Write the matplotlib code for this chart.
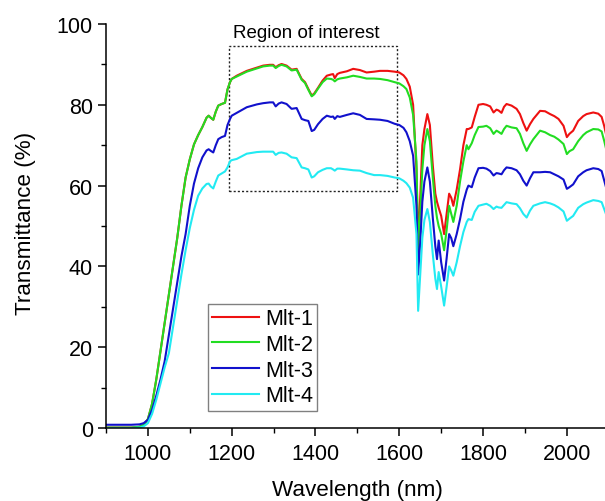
import matplotlib
matplotlib.use("Agg")
import matplotlib.pyplot as plt
from matplotlib.patches import Rectangle
from matplotlib.ticker import MultipleLocator

plt.rcParams['font.family'] = ['Liberation Sans', 'DejaVu Sans']

# ---------------- data ----------------
wl_rise = [900, 960, 980, 990, 1000, 1010, 1020, 1030, 1040, 1050, 1060, 1070, 1080, 1090, 1100,
           1110, 1120, 1130, 1140, 1145, 1150, 1156, 1162, 1168, 1176, 1184, 1190, 1196, 1200]
wl_roi = [1212, 1236, 1260, 1275, 1291, 1299, 1305, 1312, 1319, 1331, 1343, 1355, 1367, 1375, 1383,
          1391, 1397, 1406, 1417, 1427, 1437, 1442, 1446, 1452, 1458, 1475, 1490, 1506, 1522, 1540,
          1554, 1572, 1589, 1600, 1610, 1617, 1625, 1633, 1641]
wl_dip = [1645, 1650, 1655, 1660, 1667, 1673, 1680, 1686, 1690, 1694, 1700, 1707, 1713, 1719, 1724,
          1729, 1737, 1745, 1753, 1761, 1765, 1773, 1780, 1789]
wl_right = [1800, 1808, 1817, 1825, 1832, 1837, 1844, 1850, 1856, 1868, 1880, 1888, 1896, 1904, 1912,
            1920, 1936, 1948, 1960, 1970, 1980, 1992, 2000, 2006, 2015, 2027, 2039, 2047, 2063, 2075,
            2083, 2089, 2095]
wavelength = wl_rise + wl_roi + wl_dip + wl_right

mlt1 = ([0.1, 0.1, 0.3, 0.8, 2.2, 6, 12, 19, 26, 33, 40, 47, 55, 62, 66.5,
         70.2, 72.5, 74.5, 76.8, 77.3, 76.8, 76.3, 78.3, 79.8, 80.2, 80.5, 83.8, 85.6, 86.4]
        + [87.2, 88.4, 89.2, 89.7, 89.9, 89.9, 89.3, 89.8, 90.1, 89.7, 88.7, 88.9, 86.4, 85.6, 83.9,
           82.3, 82.8, 84.2, 86.0, 87.2, 87.5, 87.6, 86.6, 87.6, 87.9, 88.3, 88.9, 88.6, 88.0, 88.2,
           88.4, 88.4, 88.2, 88.0, 87.3, 86.4, 84.5, 80.0, 64.0]
        + [46, 57, 70, 74, 77.7, 75, 65, 58, 56, 54.5, 52.5, 48, 53, 58, 57,
           55, 59, 64, 70, 74, 74, 74.4, 77, 80]
        + [80.2, 80.0, 79.6, 78.1, 78.8, 78.6, 78.0, 79.5, 80.2, 79.8, 79.0, 77.7, 75.5, 73.6, 75.2,
           76.5, 78.5, 78.4, 77.7, 77.2, 76.5, 74.8, 72.0, 72.8, 73.6, 76.0, 77.2, 77.7, 78.1, 77.8,
           77.0, 74.8, 72.0])

mlt2 = ([0.1, 0.1, 0.3, 0.8, 2.2, 6, 12, 19, 26, 33, 40, 47, 55, 62, 66.5,
         70.2, 72.5, 74.5, 76.8, 77.3, 76.8, 76.3, 78.3, 79.8, 80.2, 80.5, 83.8, 85.6, 86.4]
        + [87.0, 88.2, 89.0, 89.5, 89.7, 89.7, 89.1, 89.6, 89.9, 89.5, 88.5, 88.7, 86.2, 85.4, 83.7,
           82.1, 82.6, 84.0, 85.6, 86.5, 86.4, 86.2, 85.8, 86.3, 86.5, 86.8, 87.2, 86.9, 86.5, 86.5,
           86.4, 86.1, 85.6, 85.3, 84.6, 83.9, 81.8, 77.5, 66.0]
        + [44, 53, 64, 70, 74, 71, 62, 55, 52, 50, 48, 44, 49, 55, 53,
           51, 55, 61, 66, 70, 69, 70.5, 72.5, 74.5]
        + [74.6, 74.8, 74.2, 72.8, 73.6, 73.3, 72.8, 74.0, 74.8, 74.4, 74.2, 72.8, 70.5, 68.6, 70.2,
           71.5, 73.6, 73.2, 72.5, 72.1, 71.4, 70.3, 67.8, 68.5, 69.0, 71.0, 72.5, 73.2, 74.0, 73.9,
           73.4, 71.1, 68.5])

mlt3 = ([0.8, 0.8, 0.9, 1.2, 2.0, 4.5, 8, 12, 16.5, 23, 29.5, 36, 42.5, 48, 55,
         60.5, 64.3, 67, 68.7, 69, 68.6, 68.2, 70, 71.5, 72, 72.3, 75, 76.5, 77.3]
        + [78.0, 79.4, 80.1, 80.4, 80.6, 80.6, 79.6, 80.3, 80.6, 80.2, 79.0, 79.2, 76.5, 76.2, 76.0,
           73.5, 73.8, 75.2, 76.5, 77.3, 77.0, 77.1, 76.5, 77.2, 77.0, 77.5, 77.9, 77.5, 76.5, 76.4,
           76.3, 76.0, 75.3, 75.0, 74.3, 73.2, 71.0, 67.4, 55.0]
        + [38, 46, 56, 61, 64.5, 61, 52, 45, 41.8, 46.4, 41, 36.5, 42, 48, 47,
           45, 48, 51.7, 56, 59, 60, 59.6, 62, 64.3]
        + [64.4, 64.2, 63.6, 62.5, 63.1, 63.0, 62.8, 63.8, 64.5, 64.3, 63.8, 62.8, 61.2, 60.0, 61.8,
           63.3, 63.3, 63.4, 63.3, 62.8, 62.3, 61.5, 59.2, 59.6, 60.3, 62.3, 63.3, 63.8, 64.3, 64.1,
           63.6, 61.3, 59.0])

mlt4 = ([0.0, 0.0, 0.1, 0.4, 1.2, 3.5, 7, 11, 15, 18.5, 25, 31.5, 38, 44, 49.5,
         54, 57.5, 59.3, 60.4, 60.5, 59.8, 59.3, 61, 62.5, 63, 63.5, 64.5, 66, 66.3]
        + [66.6, 67.9, 68.3, 68.4, 68.4, 68.4, 67.6, 68.1, 68.2, 67.9, 67.0, 66.8, 64.5, 64.3, 64.0,
           62.0, 62.3, 63.3, 63.9, 64.3, 64.3, 64.0, 63.7, 64.2, 64.2, 64.0, 63.8, 63.7, 63.1, 62.6,
           62.6, 62.4, 62.0, 61.8, 61.2, 60.6, 59.5, 57.0, 48.0]
        + [29, 38, 47, 51.5, 54.2, 51, 43, 37, 34.4, 38.6, 35, 30.3, 35, 40, 39,
           37.7, 41, 45, 48.5, 51, 51.7, 51.5, 53.5, 55]
        + [55.3, 55.5, 55.0, 54.2, 54.8, 54.6, 54.5, 55.2, 55.9, 55.6, 55.4, 54.4, 53.0, 52.1, 53.8,
           55.0, 55.6, 55.9, 55.6, 55.2, 54.6, 53.6, 51.3, 51.8, 52.5, 54.5, 55.4, 55.8, 56.4, 56.2,
           55.9, 54.2, 52.5])

series_labels = ['Mlt-1', 'Mlt-2', 'Mlt-3', 'Mlt-4']
series_values = [mlt1, mlt2, mlt3, mlt4]
series_colors = ['#ee1111', '#22dd22', '#1111cc', '#22eaf2']

roi_x = [1193, 1594]
roi_y = [58.7, 94.6]
roi_text = 'Region of interest'

x_ticks = [1000, 1200, 1400, 1600, 1800, 2000]
y_ticks = [0, 20, 40, 60, 80, 100]

# ---------------- figure ----------------
fig = plt.figure(figsize=(6.05, 5.02), dpi=100)
ax = fig.add_axes([106/605, 73/502, 499/605, 404/502])

for lab, vals, col in zip(series_labels, series_values, series_colors):
    ax.plot(wavelength, vals, color=col, lw=1.5, label=lab)

ax.add_patch(Rectangle((roi_x[0], roi_y[0]), roi_x[1]-roi_x[0], roi_y[1]-roi_y[0],
                       fill=False, ec='#222222', lw=1.0, ls=(0, (1.5, 1.5))))
ax.text(1377, 98.0, roi_text, ha='center', va='center', fontsize=13.5)

ax.set_xlim(900, 2091)
ax.set_ylim(0, 100)
ax.set_xticks(x_ticks)
ax.set_yticks(y_ticks)
ax.xaxis.set_minor_locator(MultipleLocator(100))
ax.yaxis.set_minor_locator(MultipleLocator(10))
ax.tick_params(which='major', direction='out', length=6, width=1.1, labelsize=15.5, colors='black')
ax.tick_params(axis='x', which='major', pad=5)
ax.tick_params(which='minor', direction='out', length=3.5, width=1.0)
for s in ['top', 'right']:
    ax.spines[s].set_visible(False)
for s in ['left', 'bottom']:
    ax.spines[s].set_linewidth(1.1)

ax.text(-0.162, 0.51, 'Transmittance (%)', rotation=90, ha='center', va='center',
        fontsize=16.2, transform=ax.transAxes)
ax.text(0.503, -0.153, 'Wavelength (nm)', ha='center', va='center',
        fontsize=16.2, transform=ax.transAxes)

leg = ax.legend(loc='upper left', bbox_to_anchor=(0.204, 0.307), borderaxespad=0,
                fontsize=15.5, handlelength=2.2, handletextpad=0.25, labelspacing=0.22,
                borderpad=0.2, fancybox=False, framealpha=1, edgecolor='#808080')
leg.get_frame().set_linewidth(1.0)

fig.savefig('out.png', dpi=100)
